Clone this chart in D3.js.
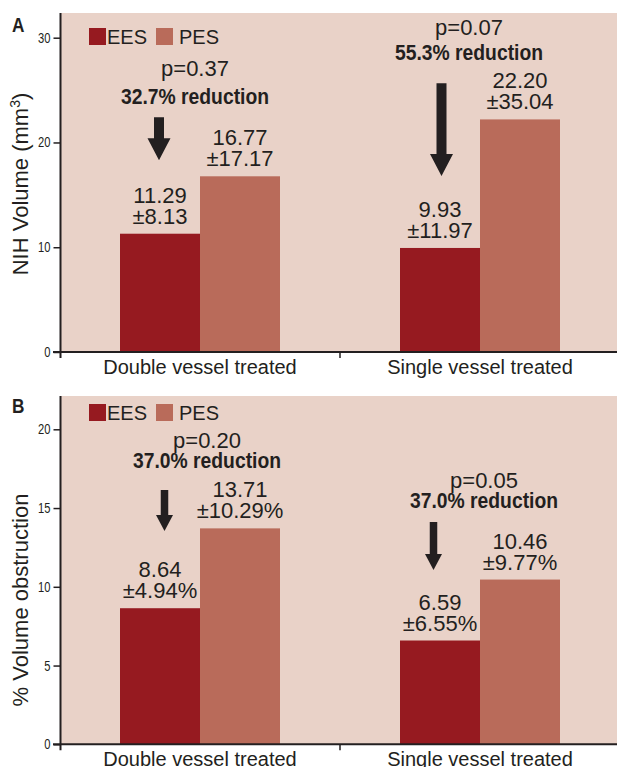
<!DOCTYPE html>
<html>
<head>
<meta charset="utf-8">
<script src="https://cdn.jsdelivr.net/npm/d3@7"></script>
<style>
  html, body { margin: 0; padding: 0; background: #fff; }
  svg { display: block; }
  text { font-family: "Liberation Sans", Arial, sans-serif; }
</style>
</head>
<body>
<svg id="chart" width="617" height="767"></svg>
<script>
// Groups and series
const groups = ["Double vessel treated", "Single vessel treated"];
const series = ["EES", "PES"];

// Panel A: neointimal hyperplasia volume (mm³)
const nihEES = [11.29, 9.93];
const nihPES = [16.77, 22.20];
const nihSdEES = [8.13, 11.97];
const nihSdPES = [17.17, 35.04];
const nihPValues = ["p=0.37", "p=0.07"];
const nihReductions = ["32.7% reduction", "55.3% reduction"];
const nihTicks = [0, 10, 20, 30];

// Panel B: % volume obstruction
const obsEES = [8.64, 6.59];
const obsPES = [13.71, 10.46];
const obsSdEES = [4.94, 6.55];
const obsSdPES = [10.29, 9.77];
const obsPValues = ["p=0.20", "p=0.05"];
const obsReductions = ["37.0% reduction", "37.0% reduction"];
const obsTicks = [0, 5, 10, 15, 20];

const colors = { EES: "#961a20", PES: "#b96b5a" };
const bgColor = "#e9d2c8";
const ink = "#231f20";

const svg = d3.select("#chart");

function drawPanel(cfg) {
  const g = svg.append("g");
  const y = d3.scaleLinear().domain([0, cfg.maxTick]).range([cfg.zeroY, cfg.topTickY]);
  const x = d3.scaleBand().domain(groups).range([60, 620]).paddingInner(0).paddingOuter(0);
  const xs = d3.scaleBand().domain(series).range([0, x.bandwidth()]).paddingOuter(0.75).paddingInner(0);

  // plot background
  g.append("rect")
    .attr("x", 61).attr("y", cfg.top)
    .attr("width", 617 - 61).attr("height", cfg.zeroY - cfg.top)
    .attr("fill", bgColor);

  // bars
  const rows = groups.map((grp, i) => ({
    grp,
    vals: [
      { s: "EES", v: cfg.ees[i], sd: cfg.sdEES[i] },
      { s: "PES", v: cfg.pes[i], sd: cfg.sdPES[i] }
    ]
  }));

  const grpSel = g.selectAll("g.grp").data(rows).join("g")
    .attr("class", "grp")
    .attr("transform", d => `translate(${x(d.grp)},0)`);

  grpSel.selectAll("rect").data(d => d.vals).join("rect")
    .attr("x", d => xs(d.s))
    .attr("y", d => y(d.v))
    .attr("width", xs.bandwidth())
    .attr("height", d => y(0) - y(d.v))
    .attr("fill", d => colors[d.s]);

  // value labels (mean and ± SD)
  const lbl = grpSel.selectAll("g.vl").data(d => d.vals).join("g")
    .attr("class", "vl")
    .attr("transform", d => `translate(${xs(d.s) + xs.bandwidth() / 2},${y(d.v)})`);
  lbl.append("text")
    .attr("text-anchor", "middle").attr("y", -31)
    .attr("font-size", 22).attr("fill", ink)
    .text(d => d.v.toFixed(2));
  lbl.append("text")
    .attr("text-anchor", "middle").attr("y", -10)
    .attr("font-size", 22).attr("fill", ink)
    .text(d => "±" + d.sd.toFixed(2) + cfg.sdSuffix);

  // p-values, reductions and arrows
  groups.forEach((grp, i) => {
    const cx = x(grp) + x.bandwidth() / 2 + cfg.textDx[i];
    g.append("text")
      .attr("x", cx).attr("y", y(cfg.pY[i]))
      .attr("text-anchor", "middle").attr("font-size", 22).attr("fill", ink)
      .text(cfg.pValues[i]);
    g.append("text")
      .attr("x", cx).attr("y", y(cfg.redY[i]))
      .attr("text-anchor", "middle").attr("font-size", 22).attr("font-weight", "bold")
      .attr("textLength", 148).attr("lengthAdjust", "spacingAndGlyphs")
      .attr("fill", ink)
      .text(cfg.reductions[i]);

    const ax = x(grp) + xs("EES") + xs.bandwidth() / 2 + cfg.arrowDx[i];
    const yTop = y(cfg.arrowTop[i]);
    const yTip = y(cfg.arrowTip[i]);
    const sw = cfg.shaftW / 2, hw = cfg.headW / 2, hl = cfg.headL;
    const p = d3.path();
    p.moveTo(ax - sw, yTop);
    p.lineTo(ax + sw, yTop);
    p.lineTo(ax + sw, yTip - hl);
    p.lineTo(ax + hw, yTip - hl);
    p.lineTo(ax, yTip);
    p.lineTo(ax - hw, yTip - hl);
    p.lineTo(ax - sw, yTip - hl);
    p.closePath();
    g.append("path").attr("d", p.toString()).attr("fill", ink);
  });

  // y axis
  const yAxis = g.append("g")
    .attr("transform", "translate(60.5,0)")
    .call(d3.axisLeft(y).tickValues(cfg.ticks).tickSize(7).tickPadding(3).tickFormat(d3.format("d")));
  yAxis.select(".domain").remove();
  yAxis.selectAll(".tick line").attr("stroke", ink).attr("stroke-width", 1.5);
  yAxis.selectAll(".tick text")
    .attr("font-size", 14).attr("fill", ink)
    .attr("x", -12.5)
    .attr("transform", "scale(0.8,1)")
    .style("font-family", "'Liberation Sans', Arial, sans-serif");
  g.append("line")
    .attr("x1", 60.5).attr("x2", 60.5)
    .attr("y1", cfg.top).attr("y2", cfg.zeroY + 6)
    .attr("stroke", ink).attr("stroke-width", 2);

  // x axis: baseline, group boundary tick and category labels
  g.append("line")
    .attr("x1", 53).attr("x2", 617)
    .attr("y1", cfg.zeroY).attr("y2", cfg.zeroY)
    .attr("stroke", ink).attr("stroke-width", 2);
  const xAxis = g.append("g")
    .attr("transform", `translate(0,${cfg.zeroY})`)
    .call(d3.axisBottom(x).tickSize(0));
  xAxis.select(".domain").remove();
  xAxis.selectAll(".tick text")
    .attr("dy", 0).attr("y", 22)
    .attr("font-size", 20).attr("fill", ink)
    .style("font-family", "'Liberation Sans', Arial, sans-serif");
  const bounds = [x(groups[0]) + x.bandwidth()];
  g.selectAll("line.bt").data(bounds).join("line")
    .attr("class", "bt")
    .attr("x1", d => d).attr("x2", d => d)
    .attr("y1", cfg.zeroY).attr("y2", cfg.zeroY + 6)
    .attr("stroke", ink).attr("stroke-width", 1.5);

  // axis title
  g.append("text")
    .attr("transform", `translate(28,${cfg.titleY}) rotate(-90)`)
    .attr("text-anchor", "middle").attr("font-size", 22).attr("fill", ink)
    .html(cfg.titleHtml);

  // panel letter
  g.append("text")
    .attr("transform", `translate(12,${cfg.letterY}) scale(0.82,1)`)
    .attr("font-size", 21).attr("font-weight", "bold").attr("fill", ink)
    .text(cfg.letter);

  // legend
  const leg = g.append("g").attr("transform", `translate(89,${cfg.legendY})`);
  leg.append("rect").attr("x", 0).attr("y", 0).attr("width", 17).attr("height", 17).attr("fill", colors.EES);
  leg.append("text").attr("x", 18).attr("y", 16)
    .attr("font-size", 20).attr("fill", ink).text("EES");
  leg.append("rect").attr("x", 67).attr("y", 0).attr("width", 17).attr("height", 17).attr("fill", colors.PES);
  leg.append("text").attr("x", 90).attr("y", 16)
    .attr("font-size", 20).attr("fill", ink).text("PES");
}

drawPanel({
  letter: "A", letterY: 32, legendY: 28,
  top: 13, zeroY: 352, topTickY: 37.7, maxTick: 30, ticks: nihTicks,
  ees: nihEES, pes: nihPES, sdEES: nihSdEES, sdPES: nihSdPES, sdSuffix: "",
  pValues: nihPValues, reductions: nihReductions,
  pY: [26.3, 30.25], redY: [23.65, 27.9],
  arrowTop: [22.4, 25.65], arrowTip: [18.3, 16.8],
  textDx: [-5, -11], arrowDx: [-1, 1.5],
  shaftW: 10, headW: 23, headL: 22,
  titleY: 184,
  titleHtml: 'NIH Volume (mm<tspan baseline-shift="super" font-size="14">3</tspan>)'
});

drawPanel({
  letter: "B", letterY: 413, legendY: 404,
  top: 396, zeroY: 744.3, topTickY: 429.3, maxTick: 20, ticks: obsTicks,
  ees: obsEES, pes: obsPES, sdEES: obsSdEES, sdPES: obsSdPES, sdSuffix: "%",
  pValues: obsPValues, reductions: obsReductions,
  pY: [18.82, 16.28], redY: [17.55, 15.0],
  arrowTop: [16.15, 14.12], arrowTip: [13.55, 11.07],
  textDx: [7, 4], arrowDx: [4.5, -6.5],
  shaftW: 7.5, headW: 17, headL: 16,
  titleY: 600,
  titleHtml: "% Volume obstruction"
});
</script>
</body>
</html>
